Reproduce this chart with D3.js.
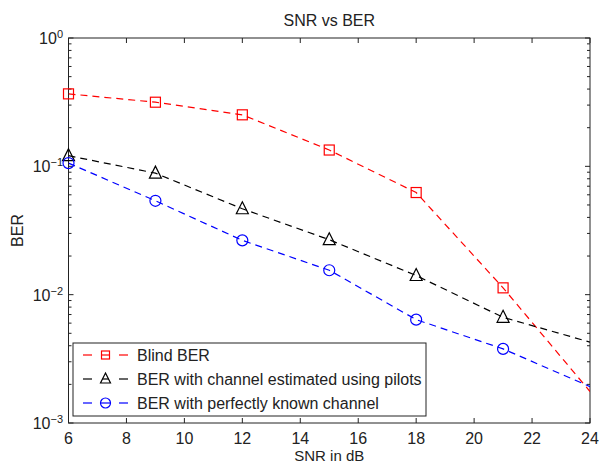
<!DOCTYPE html>
<html>
<head>
<meta charset="utf-8">
<script src="https://cdn.jsdelivr.net/npm/d3@7"></script>
<style>
body { margin: 0; background: #fff; }
text { font-family: "Liberation Sans", Arial, sans-serif; fill: #222; }
</style>
</head>
<body>
<script>
const snr = [6, 9, 12, 15, 18, 21, 24];
const blindBer = [0.367, 0.316, 0.252, 0.134, 0.0625, 0.0113, 0.00176];
const pilotBer = [0.121, 0.0885, 0.0467, 0.0268, 0.0141, 0.00666, 0.00427];
const perfectBer = [0.106, 0.0539, 0.0265, 0.0155, 0.00639, 0.00378, 0.00192];
const xTicks = [6, 8, 10, 12, 14, 16, 18, 20, 22, 24];
const yTicks = [1, 0.1, 0.01, 0.001];
const seriesNames = ['Blind BER', 'BER with channel estimated using pilots', 'BER with perfectly known channel'];

const series = [
    {name: seriesNames[0], values: blindBer, color: '#ff0000', marker: 'square'},
    {name: seriesNames[1], values: pilotBer, color: '#000000', marker: 'triangle'},
    {name: seriesNames[2], values: perfectBer, color: '#0000ff', marker: 'circle'}
];

const W = 599, H = 463;
const margin = {top: 38, right: 9, bottom: 40, left: 68.5};
const width = W - margin.left - margin.right;
const height = H - margin.top - margin.bottom;

const x = d3.scaleLinear().domain([6, 24]).range([0, width]);
const y = d3.scaleLog().domain([0.001, 1]).range([height, 0]);

const root = d3.select('body').append('svg')
    .attr('width', W)
    .attr('height', H);

const svg = root.append('g')
    .attr('transform', 'translate(' + margin.left + ',' + margin.top + ')');

svg.append('defs').append('clipPath').attr('id', 'clip')
    .append('rect').attr('width', width).attr('height', height);

// ticks (inside, MATLAB style)
const minor = [];
for (let e = -3; e < 0; e++) for (let m = 2; m <= 9; m++) minor.push(m * Math.pow(10, e));

const tickG = svg.append('g').attr('stroke', '#222').attr('stroke-width', 1);
xTicks.forEach(function(t) {
    tickG.append('line').attr('x1', x(t)).attr('x2', x(t)).attr('y1', height).attr('y2', height - 5);
    tickG.append('line').attr('x1', x(t)).attr('x2', x(t)).attr('y1', 0).attr('y2', 5);
});
yTicks.forEach(function(t) {
    tickG.append('line').attr('x1', 0).attr('x2', 5).attr('y1', y(t)).attr('y2', y(t));
    tickG.append('line').attr('x1', width).attr('x2', width - 5).attr('y1', y(t)).attr('y2', y(t));
});
minor.forEach(function(t) {
    tickG.append('line').attr('x1', 0).attr('x2', 3).attr('y1', y(t)).attr('y2', y(t));
    tickG.append('line').attr('x1', width).attr('x2', width - 3).attr('y1', y(t)).attr('y2', y(t));
});

svg.append('rect')
    .attr('width', width).attr('height', height)
    .attr('fill', 'none').attr('stroke', '#222').attr('stroke-width', 1);

// tick labels
svg.append('g').selectAll('text')
    .data(xTicks).enter().append('text')
    .attr('x', function(d) { return x(d); })
    .attr('y', height + 21)
    .attr('text-anchor', 'middle')
    .attr('font-size', '16px')
    .text(function(d) { return d; });

const yl = svg.append('g').selectAll('text')
    .data(yTicks).enter().append('text')
    .attr('x', -5.5)
    .attr('y', function(d) { return y(d) + 6; })
    .attr('text-anchor', 'end')
    .attr('font-size', '16px');
yl.append('tspan').text('10');
yl.append('tspan').attr('font-size', '11px').attr('dy', -6)
    .text(function(d) { return Math.round(Math.log10(d)) === 0 ? '0' : '\u2212' + (-Math.round(Math.log10(d))); });

// lines
const line = d3.line()
    .x(function(d) { return x(d[0]); })
    .y(function(d) { return y(d[1]); });

const plot = svg.append('g').attr('clip-path', 'url(#clip)');

function drawMarker(g, type, color) {
    if (type === 'square') {
        g.append('rect').attr('x', -5).attr('y', -5).attr('width', 10).attr('height', 10)
            .attr('fill', 'none').attr('stroke', color).attr('stroke-width', 1.2);
    } else if (type === 'triangle') {
        g.append('path').attr('d', 'M0,-7L6,5L-6,5Z')
            .attr('fill', 'none').attr('stroke', color).attr('stroke-width', 1.2);
    } else {
        g.append('circle').attr('r', 5.5)
            .attr('fill', 'none').attr('stroke', color).attr('stroke-width', 1.2);
    }
}

series.forEach(function(s) {
    const pts = snr.map(function(v, i) { return [v, s.values[i]]; });
    plot.append('path')
        .datum(pts)
        .attr('d', line)
        .attr('fill', 'none')
        .attr('stroke', s.color)
        .attr('stroke-width', 1.2)
        .attr('stroke-dasharray', '7,5');
    svg.append('g').selectAll('g')
        .data(pts.slice(0, 6)).enter().append('g')
        .attr('transform', function(d) { return 'translate(' + x(d[0]) + ',' + y(d[1]) + ')'; })
        .each(function() { drawMarker(d3.select(this), s.marker, s.color); });
});

// legend
const legend = svg.append('g').attr('transform', 'translate(' + (73 - margin.left) + ',' + (343 - margin.top) + ')');
legend.append('rect').attr('width', 353).attr('height', 73)
    .attr('fill', '#fff').attr('stroke', '#222').attr('stroke-width', 1);
series.forEach(function(s, i) {
    const row = legend.append('g').attr('transform', 'translate(0,' + (12 + i * 24) + ')');
    row.append('line').attr('x1', 10).attr('x2', 19).attr('stroke', s.color).attr('stroke-width', 1.2);
    row.append('line').attr('x1', 46).attr('x2', 55).attr('stroke', s.color).attr('stroke-width', 1.2);
    const m = row.append('g').attr('transform', 'translate(32.5,0)');
    if (s.marker === 'square') {
        m.append('rect').attr('x', -4).attr('y', -4).attr('width', 8).attr('height', 8)
            .attr('fill', 'none').attr('stroke', s.color).attr('stroke-width', 1.2);
        m.append('line').attr('x1', -4).attr('x2', 4).attr('stroke', s.color).attr('stroke-width', 1.2);
    } else if (s.marker === 'triangle') {
        m.append('path').attr('d', 'M0,-6L5,4L-5,4Z')
            .attr('fill', 'none').attr('stroke', s.color).attr('stroke-width', 1.2);
        m.append('line').attr('x1', -3).attr('x2', 3).attr('stroke', s.color).attr('stroke-width', 1.2);
    } else {
        m.append('circle').attr('r', 5)
            .attr('fill', 'none').attr('stroke', s.color).attr('stroke-width', 1.2);
        m.append('line').attr('x1', -5).attr('x2', 5).attr('stroke', s.color).attr('stroke-width', 1.2);
    }
    row.append('text').attr('x', 64).attr('y', 6).attr('font-size', '16px').text(s.name);
});

// titles
root.append('text').attr('x', margin.left + width / 2).attr('y', 26)
    .attr('text-anchor', 'middle').attr('font-size', '16px').text('SNR vs BER');
root.append('text').attr('x', margin.left + width / 2).attr('y', 461)
    .attr('text-anchor', 'middle').attr('font-size', '15px').text('SNR in dB');
root.append('text').attr('transform', 'translate(23,' + (margin.top + height / 2) + ') rotate(-90)')
    .attr('text-anchor', 'middle').attr('font-size', '16px').text('BER');
</script>
</body>
</html>
